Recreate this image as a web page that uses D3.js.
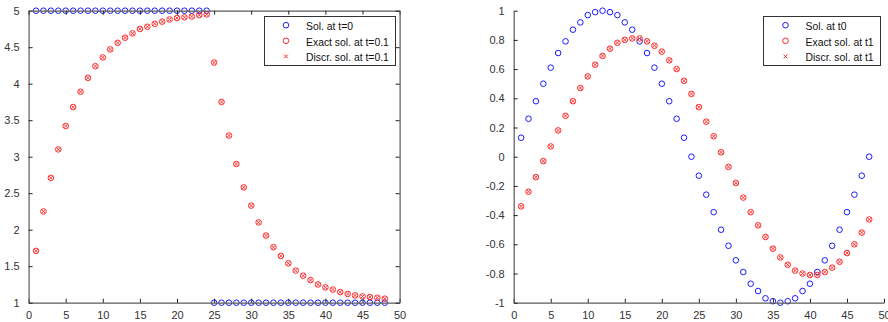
<!DOCTYPE html>
<html>
<head>
<meta charset="utf-8">
<script src="https://cdn.jsdelivr.net/npm/d3@7"></script>
<style>
html,body{margin:0;padding:0;background:#fff;overflow:hidden;}
svg{display:block;}
text{font-family:"Liberation Sans",Arial,Helvetica,sans-serif;}
</style>
</head>
<body>
<svg id="chart" width="888" height="322"></svg>
<script>
// ---------- DATA ----------
const gridX = [1,2,3,4,5,6,7,8,9,10,11,12,13,14,15,16,17,18,19,20,21,22,23,24,
               25,26,27,28,29,30,31,32,33,34,35,36,37,38,39,40,41,42,43,44,45,46,47,48];

// Left panel
const leftSol0 = [5,5,5,5,5,5,5,5,5,5,5,5,5,5,5,5,5,5,5,5,5,5,5,5,
                  1,1,1,1,1,1,1,1,1,1,1,1,1,1,1,1,1,1,1,1,1,1,1,1];
const leftExact = [1.71,2.25,2.71,3.10,3.42,3.68,3.89,4.08,4.24,4.36,4.47,4.56,
                   4.63,4.69,4.75,4.78,4.82,4.85,4.88,4.90,4.91,4.92,4.94,4.95,
                   4.29,3.75,3.29,2.90,2.58,2.33,2.10,1.92,1.76,1.64,1.54,1.44,
                   1.37,1.31,1.25,1.21,1.18,1.145,1.12,1.10,1.086,1.077,1.068,1.055];
const leftDiscr = [1.71,2.25,2.71,3.10,3.42,3.68,3.89,4.08,4.24,4.36,4.47,4.56,
                   4.63,4.69,4.75,4.78,4.82,4.85,4.88,4.90,4.91,4.92,4.94,4.95,
                   4.29,3.75,3.29,2.90,2.58,2.33,2.10,1.92,1.76,1.64,1.54,1.44,
                   1.37,1.31,1.25,1.21,1.18,1.145,1.12,1.10,1.086,1.077,1.068,1.055];
const leftLegend = ["Sol. at t=0","Exact sol. at t=0.1","Discr. sol. at t=0.1"];
const leftXTicks = [0,5,10,15,20,25,30,35,40,45,50];
const leftXLabels = ["0","5","10","15","20","25","30","35","40","45","50"];
const leftYTicks = [1,1.5,2,2.5,3,3.5,4,4.5,5];
const leftYLabels = ["1","1.5","2","2.5","3","3.5","4","4.5","5"];

// Right panel
const rightSol0 = [0.13,0.26,0.38,0.50,0.61,0.71,0.79,0.87,0.92,0.97,0.99,1.00,
                   0.99,0.97,0.92,0.87,0.79,0.71,0.61,0.50,0.38,0.26,0.13,0.00,
                   -0.13,-0.26,-0.38,-0.50,-0.61,-0.71,-0.79,-0.87,-0.92,-0.97,-0.99,-1.00,
                   -0.99,-0.97,-0.92,-0.87,-0.79,-0.71,-0.61,-0.50,-0.38,-0.26,-0.13,0.00];
const rightExact = [-0.34,-0.24,-0.14,-0.03,0.07,0.18,0.28,0.38,0.47,0.55,0.63,0.69,
                    0.74,0.78,0.80,0.81,0.81,0.79,0.76,0.72,0.66,0.60,0.52,0.43,
                    0.34,0.24,0.14,0.03,-0.07,-0.18,-0.28,-0.38,-0.47,-0.55,-0.63,-0.69,
                    -0.74,-0.78,-0.80,-0.81,-0.81,-0.79,-0.76,-0.72,-0.66,-0.60,-0.52,-0.43];
const rightDiscr = [-0.34,-0.24,-0.14,-0.03,0.07,0.18,0.28,0.38,0.47,0.55,0.63,0.69,
                    0.74,0.78,0.80,0.81,0.81,0.79,0.76,0.72,0.66,0.60,0.52,0.43,
                    0.34,0.24,0.14,0.03,-0.07,-0.18,-0.28,-0.38,-0.47,-0.55,-0.63,-0.69,
                    -0.74,-0.78,-0.80,-0.81,-0.81,-0.79,-0.76,-0.72,-0.66,-0.60,-0.52,-0.43];
const rightLegend = ["Sol. at t0","Exact sol. at t1","Discr. sol. at t1"];
const rightXTicks = [0,5,10,15,20,25,30,35,40,45,50];
const rightXLabels = ["0","5","10","15","20","25","30","35","40","45","50"];
const rightYTicks = [-1,-0.8,-0.6,-0.4,-0.2,0,0.2,0.4,0.6,0.8,1];
const rightYLabels = ["-1","-0.8","-0.6","-0.4","-0.2","0","0.2","0.4","0.6","0.8","1"];

// ---------- DRAW ----------
const svg = d3.select("#chart");
const BLUE = "#1a1aff", RED = "#ff2a2a", AXIS = "#5a5a5a";
const R = 2.8, XS = 1.9, TICK = 4;

function panel(cfg){
  const g = svg.append("g");
  const x = d3.scaleLinear().domain([0,50]).range([cfg.x0, cfg.x1]);
  const y = d3.scaleLinear().domain(cfg.yDomain).range([cfg.y1, cfg.y0]);

  // series
  g.append("g").selectAll("circle").data(gridX).join("circle")
    .attr("cx", (d)=>x(d)).attr("cy", (d,i)=>y(cfg.sol0[i]))
    .attr("r", R).attr("fill","none").attr("stroke",BLUE).attr("stroke-width",1);
  g.append("g").selectAll("circle").data(gridX).join("circle")
    .attr("cx", (d)=>x(d)).attr("cy", (d,i)=>y(cfg.exact[i]))
    .attr("r", R).attr("fill","none").attr("stroke",RED).attr("stroke-width",1);
  g.append("g").selectAll("path").data(gridX).join("path")
    .attr("d", (d,i)=>{const cx=x(d), cy=y(cfg.discr[i]);
      return `M${cx-XS},${cy-XS}L${cx+XS},${cy+XS}M${cx-XS},${cy+XS}L${cx+XS},${cy-XS}`;})
    .attr("fill","none").attr("stroke",RED).attr("stroke-width",0.9);

  // axes (MATLAB style, ticks inside)
  const fmtX = (d)=>cfg.xLabels[cfg.xTicks.indexOf(d)];
  const fmtY = (d)=>cfg.yLabels[cfg.yTicks.indexOf(d)];
  const styleAxis = (sel)=>{
    sel.select(".domain").attr("stroke",AXIS).attr("stroke-width",1.2);
    sel.selectAll(".tick line").attr("stroke","#222").attr("stroke-width",1);
    sel.selectAll(".tick text").attr("fill","#333").style("font-size","11px")
      .style("font-family","'Liberation Sans',Arial,sans-serif");
  };
  const xb = g.append("g").attr("transform",`translate(0,${cfg.y1})`)
    .call(d3.axisBottom(x).tickValues(cfg.xTicks).tickFormat(fmtX).tickSizeInner(-TICK).tickSizeOuter(0).tickPadding(5+TICK));
  styleAxis(xb);
  xb.selectAll(".tick text").attr("dy","0.71em");
  const yl = g.append("g").attr("transform",`translate(${cfg.x0},0)`)
    .call(d3.axisLeft(y).tickValues(cfg.yTicks).tickFormat(fmtY).tickSizeInner(-TICK).tickSizeOuter(0).tickPadding(5+TICK));
  styleAxis(yl);

  if (cfg.box){
    const xt = g.append("g").attr("transform",`translate(0,${cfg.y0})`)
      .call(d3.axisTop(x).tickValues(cfg.xTicks).tickFormat("").tickSizeInner(-TICK).tickSizeOuter(0));
    styleAxis(xt);
    const yr = g.append("g").attr("transform",`translate(${cfg.x1},0)`)
      .call(d3.axisRight(y).tickValues(cfg.yTicks).tickFormat("").tickSizeInner(-TICK).tickSizeOuter(0));
    styleAxis(yr);
  }

  // legend
  const L = cfg.legend;
  const lg = g.append("g");
  lg.append("rect").attr("x",L.x).attr("y",L.y).attr("width",L.w).attr("height",L.h)
    .attr("fill","#fff").attr("stroke","#333").attr("stroke-width",1);
  const rows = [0,1,2];
  rows.forEach((i)=>{
    const cy = L.y + 9.5 + i*15.6;
    const mx = L.x + L.mx;
    if (i===0) lg.append("circle").attr("cx",mx).attr("cy",cy-0.8).attr("r",R).attr("fill","none").attr("stroke",BLUE);
    if (i===1) lg.append("circle").attr("cx",mx).attr("cy",cy-0.8).attr("r",R).attr("fill","none").attr("stroke",RED);
    if (i===2) lg.append("path").attr("d",`M${mx-1.9},${cy-2.7}L${mx+1.9},${cy+1.1}M${mx-1.9},${cy+1.1}L${mx+1.9},${cy-2.7}`)
      .attr("stroke",RED).attr("stroke-width",1).attr("fill","none");
    lg.append("text").attr("x",L.x+L.tx).attr("y",cy+4).text(cfg.legendLabels[i])
      .attr("fill","#111").style("font-size","10.4px");
  });
}

panel({x0:28.6, x1:399.6, y0:10.7, y1:302.7, yDomain:[1,5], box:true,
  sol0:leftSol0, exact:leftExact, discr:leftDiscr,
  xTicks:leftXTicks, xLabels:leftXLabels, yTicks:leftYTicks, yLabels:leftYLabels,
  legendLabels:leftLegend,
  legend:{x:264.5, y:16.5, w:131, h:49, mx:21.5, tx:41.5}});

panel({x0:513.7, x1:884, y0:10.7, y1:302.7, yDomain:[-1,1], box:false,
  sol0:rightSol0, exact:rightExact, discr:rightDiscr,
  xTicks:rightXTicks, xLabels:rightXLabels, yTicks:rightYTicks, yLabels:rightYLabels,
  legendLabels:rightLegend,
  legend:{x:763.5, y:16.5, w:117, h:49, mx:22, tx:42}});
</script>
</body>
</html>
